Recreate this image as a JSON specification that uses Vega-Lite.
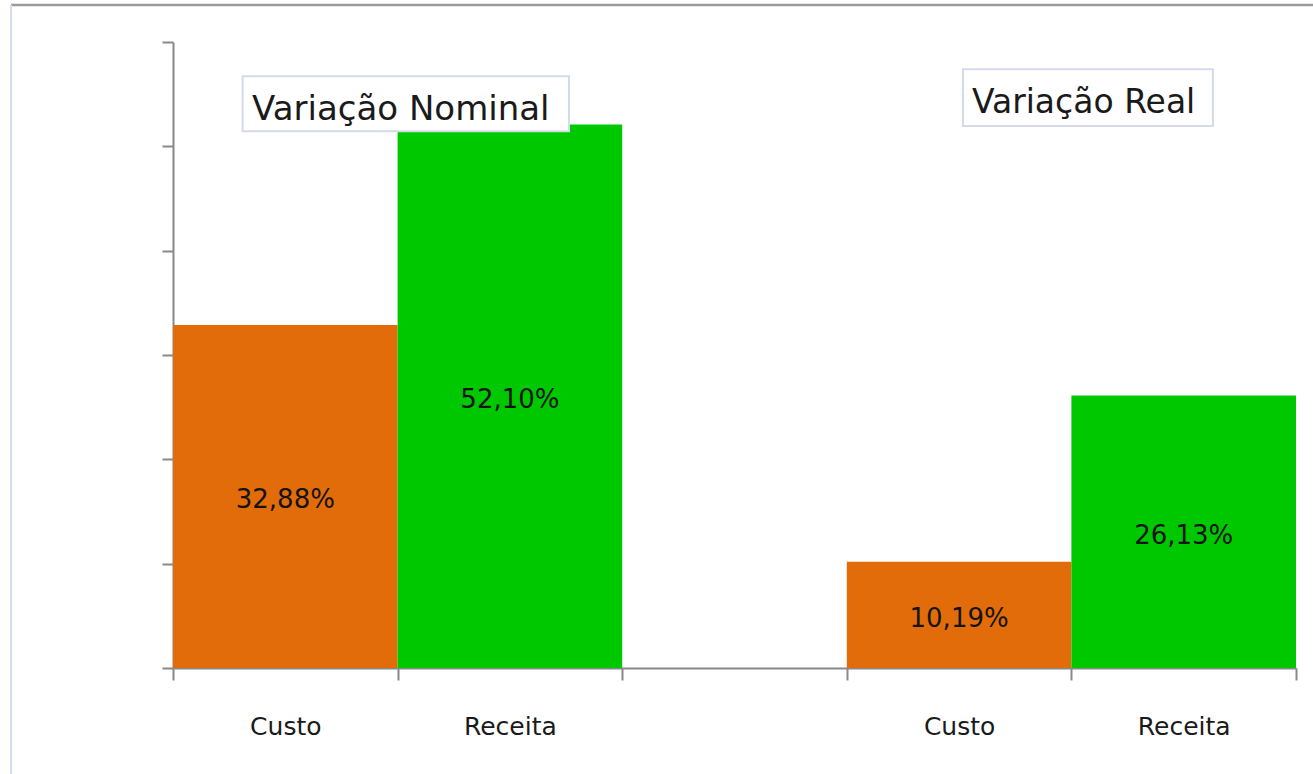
{
  "$schema": "https://vega.github.io/schema/vega-lite/v6.json",
  "width": 1123,
  "height": 626,
  "autosize": "none",
  "padding": {"left": 173, "top": 42, "right": 17, "bottom": 106},
  "background": "white",
  "config": {"view": {"stroke": null}, "font": "DejaVu Sans"},
  "resolve": {"scale": {"x": "independent", "y": "independent"}},
  "layer": [
    {
      "data": {"values": [
        {"cat": "Custo|N", "tipo": "Custo", "value": 32.88, "label": "32,88%"},
        {"cat": "Receita|N", "tipo": "Receita", "value": 52.10, "label": "52,10%"},
        {"cat": "Custo|R", "tipo": "Custo", "value": 10.19, "label": "10,19%"},
        {"cat": "Receita|R", "tipo": "Receita", "value": 26.13, "label": "26,13%"}
      ]},
      "mark": {"type": "bar"},
      "encoding": {
        "x": {"field": "cat", "type": "nominal", "sort": null,
          "scale": {"domain": ["Custo|N", "Receita|N", "gap", "Custo|R", "Receita|R"], "paddingInner": 0, "paddingOuter": 0},
          "axis": {"title": null, "labelAngle": 0, "tickBand": "extent", "tickSize": 12, "tickColor": "#888888", "tickWidth": 2,
            "domainColor": "#888888", "domainWidth": 2, "labelFontSize": 25, "labelColor": "#1a1a1a", "labelPadding": 34,
            "labelExpr": "datum.label == 'gap' ? '' : split(datum.label, '|')[0]"}},
        "y": {"field": "value", "type": "quantitative",
          "scale": {"domain": [0, 60], "nice": false},
          "axis": {"title": null, "labels": false, "grid": false, "values": [0, 10, 20, 30, 40, 50, 60], "tickSize": 11,
            "tickColor": "#888888", "tickWidth": 2, "domainColor": "#888888", "domainWidth": 2}},
        "color": {"field": "tipo", "type": "nominal",
          "scale": {"domain": ["Custo", "Receita"], "range": ["#E36C0A", "#00C800"]}, "legend": null}
      }
    },
    {
      "data": {"values": [
        {"cat": "Custo|N", "value": 32.88, "label": "32,88%"},
        {"cat": "Receita|N", "value": 52.10, "label": "52,10%"},
        {"cat": "Custo|R", "value": 10.19, "label": "10,19%"},
        {"cat": "Receita|R", "value": 26.13, "label": "26,13%"}
      ]},
      "mark": {"type": "text", "fontSize": 26, "color": "#141414", "baseline": "middle", "align": "center", "dy": 4},
      "encoding": {
        "x": {"field": "cat", "type": "nominal", "sort": null,
          "scale": {"domain": ["Custo|N", "Receita|N", "gap", "Custo|R", "Receita|R"], "paddingInner": 0, "paddingOuter": 0},
          "axis": null},
        "y": {"field": "value", "type": "quantitative", "scale": {"domain": [0, 120], "nice": false}, "axis": null},
        "text": {"field": "label"}
      }
    },
    {
      "data": {"values": [{"label": "Variação Nominal"}]},
      "layer": [
        {
          "mark": {"type": "rect", "fill": "white", "stroke": "#D3DAEA", "strokeWidth": 2},
          "encoding": {
            "x": {"datum": 0.31, "type": "quantitative", "scale": {"domain": [0, 5], "nice": false}, "axis": null},
            "x2": {"datum": 1.763},
            "y": {"datum": 56.71, "type": "quantitative", "scale": {"domain": [0, 60], "nice": false}, "axis": null},
            "y2": {"datum": 51.44}
          }
        },
        {
          "mark": {"type": "text", "fontSize": 34, "color": "#1a1a1a", "align": "left", "baseline": "alphabetic"},
          "encoding": {
            "x": {"datum": 0.352, "type": "quantitative", "scale": {"domain": [0, 5], "nice": false}, "axis": null},
            "y": {"datum": 52.52, "type": "quantitative", "scale": {"domain": [0, 60], "nice": false}, "axis": null},
            "text": {"field": "label"}
          }
        }
      ]
    },
    {
      "data": {"values": [{"label": "Variação Real"}]},
      "layer": [
        {
          "mark": {"type": "rect", "fill": "white", "stroke": "#D3DAEA", "strokeWidth": 2},
          "encoding": {
            "x": {"datum": 3.517, "type": "quantitative", "scale": {"domain": [0, 5], "nice": false}, "axis": null},
            "x2": {"datum": 4.63},
            "y": {"datum": 57.38, "type": "quantitative", "scale": {"domain": [0, 60], "nice": false}, "axis": null},
            "y2": {"datum": 51.95}
          }
        },
        {
          "mark": {"type": "text", "fontSize": 33, "color": "#1a1a1a", "align": "left", "baseline": "alphabetic"},
          "encoding": {
            "x": {"datum": 3.557, "type": "quantitative", "scale": {"domain": [0, 5], "nice": false}, "axis": null},
            "y": {"datum": 53.2, "type": "quantitative", "scale": {"domain": [0, 60], "nice": false}, "axis": null},
            "text": {"field": "label"}
          }
        }
      ]
    },
    {
      "data": {"values": [{"edge": "top"}]},
      "layer": [
        {
          "mark": {"type": "rule", "color": "#9A9A9A", "strokeWidth": 2.5},
          "encoding": {
            "x": {"datum": -0.721, "type": "quantitative", "scale": {"domain": [0, 5], "nice": false}, "axis": null},
            "x2": {"datum": 5.08},
            "y": {"datum": 63.55, "type": "quantitative", "scale": {"domain": [0, 60], "nice": false}, "axis": null}
          }
        },
        {
          "mark": {"type": "rule", "color": "#D5DCEB", "strokeWidth": 2},
          "encoding": {
            "x": {"datum": -0.721, "type": "quantitative", "scale": {"domain": [0, 5], "nice": false}, "axis": null},
            "y": {"datum": 63.55, "type": "quantitative", "scale": {"domain": [0, 60], "nice": false}, "axis": null},
            "y2": {"datum": -10.16}
          }
        }
      ]
    }
  ]
}
